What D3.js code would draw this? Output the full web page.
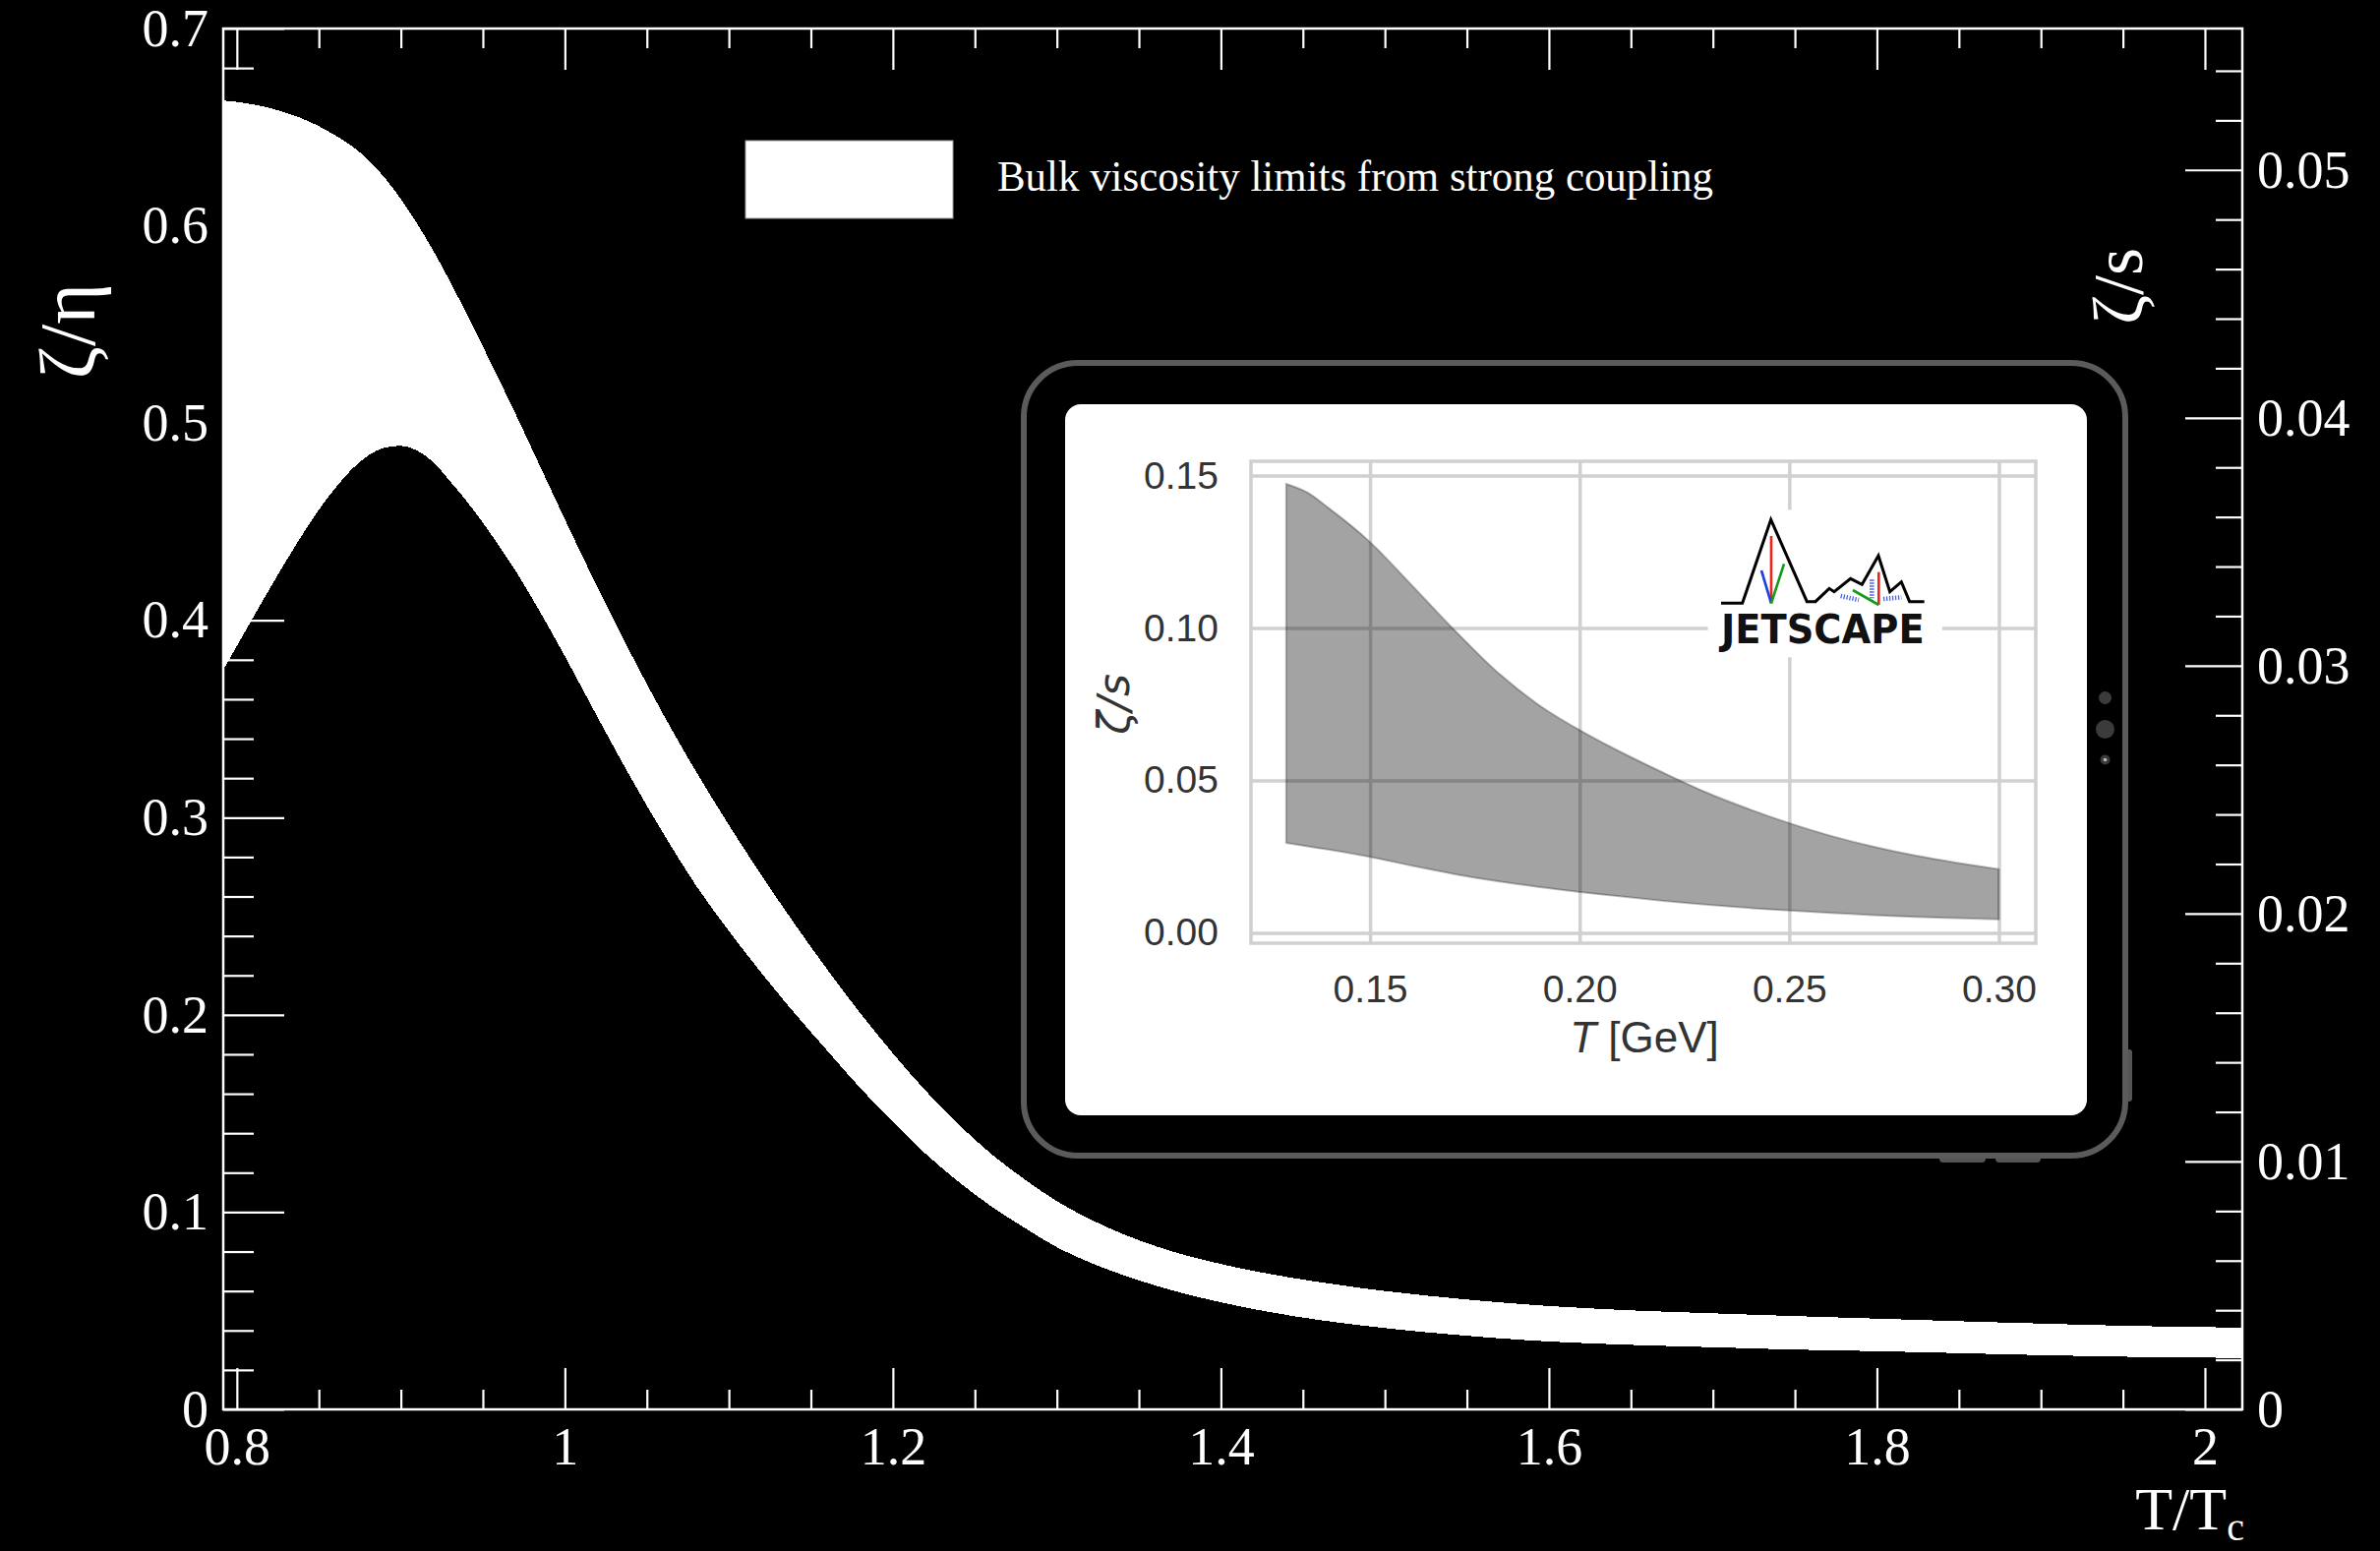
<!DOCTYPE html>
<html>
<head>
<meta charset="utf-8">
<script src="https://cdn.jsdelivr.net/npm/d3@7"></script>
<style>
  html, body { margin: 0; padding: 0; background: #000; }
  svg { display: block; }
</style>
</head>
<body>
<svg id="chart" width="2420" height="1577"></svg>
<script>
// ---------- main panel: zeta/eta band vs T/Tc ----------
const tRatio = [0.79, 0.80, 0.81, 0.82, 0.83, 0.84, 0.85, 0.86, 0.87, 0.88, 0.89, 0.90,
  0.91, 0.92, 0.93, 0.94, 0.95, 0.96, 0.97, 0.98, 0.99, 1.00, 1.02, 1.04, 1.06, 1.08,
  1.10, 1.12, 1.14, 1.16, 1.18, 1.20, 1.22, 1.24, 1.26, 1.28, 1.30, 1.32, 1.34, 1.36,
  1.38, 1.40, 1.43, 1.46, 1.50, 1.55, 1.60, 1.65, 1.70, 1.75, 1.80, 1.85, 1.90, 1.95,
  2.00, 2.03];
const zetaEtaUpper = [0.6636, 0.6628, 0.6615, 0.6597, 0.6573, 0.6543, 0.6505, 0.6458,
  0.6405, 0.6335, 0.6245, 0.6135, 0.6010, 0.5870, 0.5717, 0.5555, 0.5388, 0.5218,
  0.5045, 0.4868, 0.4690, 0.4512, 0.4165, 0.3835, 0.3523, 0.3233, 0.2962, 0.2706,
  0.2462, 0.2230, 0.2010, 0.1805, 0.1615, 0.1445, 0.1295, 0.1168, 0.1055, 0.0965,
  0.0890, 0.0828, 0.0778, 0.0737, 0.0686, 0.0645, 0.0600, 0.0557, 0.0524, 0.0502,
  0.0487, 0.0473, 0.0460, 0.0447, 0.0435, 0.0424, 0.0417, 0.0414];
const zetaEtaLower = [0.3725, 0.3870, 0.4015, 0.4160, 0.4300, 0.4435, 0.4560, 0.4670,
  0.4765, 0.4835, 0.4875, 0.4885, 0.4860, 0.4800, 0.4705, 0.4605, 0.4495, 0.4375,
  0.4250, 0.4112, 0.3968, 0.3818, 0.3508, 0.3205, 0.2920, 0.2655, 0.2425, 0.2211,
  0.2009, 0.1818, 0.1630, 0.1457, 0.1295, 0.1154, 0.1029, 0.0922, 0.0822, 0.0745,
  0.0682, 0.0628, 0.0582, 0.0543, 0.0493, 0.0453, 0.0412, 0.0373, 0.0344, 0.0327,
  0.0315, 0.0303, 0.0295, 0.0285, 0.0275, 0.0267, 0.0262, 0.0261];

const xTicks = [0.8, 1.0, 1.2, 1.4, 1.6, 1.8, 2.0];
const xTickLabels = ["0.8", "1", "1.2", "1.4", "1.6", "1.8", "2"];
const yLeftTicks = [0, 0.1, 0.2, 0.3, 0.4, 0.5, 0.6, 0.7];
const yLeftTickLabels = ["0", "0.1", "0.2", "0.3", "0.4", "0.5", "0.6", "0.7"];
const yRightTicks = [0, 0.01, 0.02, 0.03, 0.04, 0.05];
const yRightTickLabels = ["0", "0.01", "0.02", "0.03", "0.04", "0.05"];
const legendLabel = "Bulk viscosity limits from strong coupling";

// ---------- inset: JETSCAPE zeta/s posterior band ----------
const insetT = [0.13, 0.135, 0.14, 0.15, 0.16, 0.17, 0.18, 0.19, 0.20, 0.21, 0.22,
  0.23, 0.24, 0.25, 0.26, 0.27, 0.28, 0.29, 0.30];
const insetUpper = [0.1473, 0.1445, 0.1395, 0.1282, 0.1140, 0.0995, 0.0860, 0.0750,
  0.0665, 0.0592, 0.0525, 0.0462, 0.0408, 0.0360, 0.0318, 0.0283, 0.0254, 0.0230, 0.0209];
const insetLower = [0.0295, 0.0284, 0.0273, 0.0249, 0.0220, 0.0193, 0.0170, 0.0151,
  0.0134, 0.0119, 0.0105, 0.0093, 0.0082, 0.0073, 0.0065, 0.0058, 0.0052, 0.0048, 0.0044];
const insetXTicks = [0.15, 0.20, 0.25, 0.30];
const insetXTickLabels = ["0.15", "0.20", "0.25", "0.30"];
const insetYTicks = [0.00, 0.05, 0.10, 0.15];
const insetYTickLabels = ["0.00", "0.05", "0.10", "0.15"];

// ---------------------------------------------------------------
const svg = d3.select("#chart");
svg.append("rect").attr("width", 2420).attr("height", 1577).attr("fill", "#000");

const serif = "'Liberation Serif', 'Times New Roman', serif";
const sans = "'Liberation Sans', Arial, Helvetica, sans-serif";

const frame = { left: 227, right: 2280, top: 29, bottom: 1433 };
const x = d3.scaleLinear().domain([0.7917, 2.0228]).range([frame.left, frame.right]);
const yL = d3.scaleLinear().domain([0, 0.7]).range([frame.bottom, frame.top]);
// zeta/s = (zeta/eta) * (eta/s) with eta/s = 1/(4 pi)
const yR = d3.scaleLinear().domain([0, 0.7 / (4 * Math.PI)]).range([frame.bottom, frame.top]);

const bandData = tRatio.map((t, i) => ({ t, hi: zetaEtaUpper[i], lo: zetaEtaLower[i] }));

svg.append("clipPath").attr("id", "frameClip")
  .append("rect")
  .attr("x", frame.left).attr("y", frame.top)
  .attr("width", frame.right - frame.left).attr("height", frame.bottom - frame.top);

svg.append("path")
  .datum(bandData)
  .attr("clip-path", "url(#frameClip)")
  .attr("fill", "#fff")
  .attr("shape-rendering", "crispEdges")
  .attr("d", d3.area()
    .x(d => x(d.t))
    .y0(d => yL(d.lo))
    .y1(d => yL(d.hi))
    .curve(d3.curveMonotoneX));

// minor tick helpers
const range = (a, b, s) => d3.range(Math.round(a / s), Math.round(b / s) + 1).map(k => +(k * s).toFixed(6));
const notIn = arr => v => !arr.some(m => Math.abs(m - v) < 1e-9);

const xMinor = range(0.8, 2.0, 0.05).filter(notIn(xTicks));
const yLMinor = range(0, 0.7, 0.02).filter(notIn(yLeftTicks));
const yRMinor = range(0, 0.054, 0.002).filter(notIn(yRightTicks));

function styleAxis(g, size) {
  g.select(".domain").remove();
  g.selectAll(".tick line").attr("stroke", "#fff").attr("stroke-width", 2.2);
  g.selectAll(".tick text").attr("fill", "#fff")
    .attr("font-family", serif).attr("font-size", size);
}

// bottom axis
svg.append("g").attr("transform", `translate(0,${frame.bottom})`)
  .call(d3.axisBottom(x).tickValues(xTicks)
    .tickFormat((d, i) => xTickLabels[i]).tickSize(-42).tickPadding(18))
  .call(g => styleAxis(g, 54));
svg.append("g").attr("transform", `translate(0,${frame.bottom})`)
  .call(d3.axisBottom(x).tickValues(xMinor).tickFormat("").tickSize(-20))
  .call(g => styleAxis(g, 54));

// top axis (ticks only)
svg.append("g").attr("transform", `translate(0,${frame.top})`)
  .call(d3.axisTop(x).tickValues(xTicks).tickFormat("").tickSize(-42))
  .call(g => styleAxis(g, 54));
svg.append("g").attr("transform", `translate(0,${frame.top})`)
  .call(d3.axisTop(x).tickValues(xMinor).tickFormat("").tickSize(-20))
  .call(g => styleAxis(g, 54));

// left axis: zeta/eta
svg.append("g").attr("transform", `translate(${frame.left},0)`)
  .call(d3.axisLeft(yL).tickValues(yLeftTicks)
    .tickFormat((d, i) => yLeftTickLabels[i]).tickSize(-62).tickPadding(15))
  .call(g => styleAxis(g, 54));
svg.append("g").attr("transform", `translate(${frame.left},0)`)
  .call(d3.axisLeft(yL).tickValues(yLMinor).tickFormat("").tickSize(-31))
  .call(g => styleAxis(g, 54));

// right axis: zeta/s
svg.append("g").attr("transform", `translate(${frame.right},0)`)
  .call(d3.axisRight(yR).tickValues(yRightTicks)
    .tickFormat((d, i) => yRightTickLabels[i]).tickSize(-58).tickPadding(15))
  .call(g => styleAxis(g, 54));
svg.append("g").attr("transform", `translate(${frame.right},0)`)
  .call(d3.axisRight(yR).tickValues(yRMinor).tickFormat("").tickSize(-27))
  .call(g => styleAxis(g, 54));

// frame
svg.append("rect")
  .attr("x", frame.left).attr("y", frame.top)
  .attr("width", frame.right - frame.left).attr("height", frame.bottom - frame.top)
  .attr("fill", "none").attr("stroke", "#fff").attr("stroke-width", 2.5);

// axis titles
svg.append("text")
  .attr("transform", "translate(96,288) rotate(-90)")
  .attr("text-anchor", "end")
  .attr("font-family", serif).attr("font-size", 80).attr("fill", "#fff")
  .text("ζ/η");
svg.append("text")
  .attr("transform", "translate(2178,252) rotate(-90)")
  .attr("text-anchor", "end")
  .attr("font-family", serif).attr("font-size", 72).attr("fill", "#fff")
  .text("ζ/s");
const xTitle = svg.append("text")
  .attr("x", 2282).attr("y", 1555)
  .attr("text-anchor", "end")
  .attr("font-family", serif).attr("font-size", 62).attr("fill", "#fff");
xTitle.append("tspan").text("T/T");
xTitle.append("tspan").attr("font-size", 40).attr("dy", 11).text("c");

// legend
svg.append("rect")
  .attr("x", 758).attr("y", 143).attr("width", 211).attr("height", 79)
  .attr("fill", "#fff").attr("stroke", "#999").attr("stroke-width", 1);
svg.append("text")
  .attr("x", 1014).attr("y", 194)
  .attr("font-family", serif).attr("font-size", 44).attr("fill", "#fff")
  .attr("textLength", 728).attr("lengthAdjust", "spacingAndGlyphs")
  .text(legendLabel);

// ---------- tablet frame holding the inset ----------
const tab = svg.append("g");
tab.append("rect").attr("x", 1972).attr("y", 1170).attr("width", 47).attr("height", 12)
  .attr("rx", 4).attr("fill", "#555");
tab.append("rect").attr("x", 2029).attr("y", 1170).attr("width", 46).attr("height", 12)
  .attr("rx", 4).attr("fill", "#555");
tab.append("rect").attr("x", 2158).attr("y", 1067).attr("width", 10).attr("height", 53)
  .attr("rx", 3).attr("fill", "#555");
tab.append("rect")
  .attr("x", 1041).attr("y", 369).attr("width", 1120).attr("height", 806)
  .attr("rx", 55).attr("fill", "#000").attr("stroke", "#5b5b5b").attr("stroke-width", 6);
tab.append("rect")
  .attr("x", 1083).attr("y", 411).attr("width", 1039).attr("height", 723)
  .attr("rx", 16).attr("fill", "#fff");
tab.append("circle").attr("cx", 2140.5).attr("cy", 709.5).attr("r", 6.5).attr("fill", "#3b3b3b");
tab.append("circle").attr("cx", 2140.5).attr("cy", 741.5).attr("r", 9.5).attr("fill", "#3b3b3b");
tab.append("circle").attr("cx", 2140.5).attr("cy", 772.5).attr("r", 5).attr("fill", "#3b3b3b");
tab.append("circle").attr("cx", 2140.5).attr("cy", 772.5).attr("r", 1.8).attr("fill", "#bbb");

// ---------- inset chart ----------
const inset = { left: 1272, right: 2070, top: 469, bottom: 959 };
const ix = d3.scaleLinear().domain([0.1216, 0.3088]).range([inset.left, inset.right]);
const iy = d3.scaleLinear().domain([-0.0034, 0.1547]).range([inset.bottom, inset.top]);
const gridColor = "#d0d0d0";
const tickColor = "#333";

function styleInset(g) {
  g.select(".domain").remove();
  g.selectAll(".tick line").attr("stroke", gridColor).attr("stroke-width", 3.5);
  g.selectAll(".tick text").attr("fill", tickColor)
    .attr("font-family", sans).attr("font-size", 39);
}

svg.append("g").attr("transform", `translate(0,${inset.bottom})`)
  .call(d3.axisBottom(ix).tickValues(insetXTicks)
    .tickFormat((d, i) => insetXTickLabels[i])
    .tickSize(-(inset.bottom - inset.top)).tickPadding(32))
  .call(styleInset);
svg.append("g").attr("transform", `translate(${inset.left},0)`)
  .call(d3.axisLeft(iy).tickValues(insetYTicks)
    .tickFormat((d, i) => insetYTickLabels[i])
    .tickSize(-(inset.right - inset.left)).tickPadding(33))
  .call(styleInset);

const insetData = insetT.map((t, i) => ({ t, hi: insetUpper[i], lo: insetLower[i] }));
svg.append("path")
  .datum(insetData)
  .attr("fill", "#000").attr("fill-opacity", 0.36)
  .attr("stroke", "#000").attr("stroke-opacity", 0.25).attr("stroke-width", 2)
  .attr("d", d3.area()
    .x(d => ix(d.t))
    .y0(d => iy(d.lo))
    .y1(d => iy(d.hi))
    .curve(d3.curveMonotoneX));

svg.append("rect")
  .attr("x", inset.left).attr("y", inset.top)
  .attr("width", inset.right - inset.left).attr("height", inset.bottom - inset.top)
  .attr("fill", "none").attr("stroke", gridColor).attr("stroke-width", 3.5);

// inset titles
const itx = svg.append("text")
  .attr("x", 1672).attr("y", 1070).attr("text-anchor", "middle")
  .attr("font-family", sans).attr("font-size", 44).attr("fill", tickColor);
itx.append("tspan").attr("font-style", "italic").text("T");
itx.append("tspan").text(" [GeV]");
svg.append("text")
  .attr("transform", "translate(1148,716) rotate(-90)")
  .attr("text-anchor", "middle")
  .attr("font-family", "'DejaVu Sans', sans-serif").attr("font-style", "italic")
  .attr("font-size", 44).attr("fill", tickColor)
  .text("ζ/s");

// JETSCAPE logo (drawn on a 3x local grid)
const logo = svg.append("g").attr("transform", "translate(1730,500) scale(0.3333)");
logo.append("rect").attr("x", 20).attr("y", 55).attr("width", 715).attr("height", 450).attr("fill", "#fff");
logo.append("path")
  .attr("d", "M60,340 L125,340 L212,85 L322,335 L348,335 L390,295 L405,305 L455,265 L490,283 L540,195 L575,305 L610,275 L635,335 L680,335")
  .attr("fill", "none").attr("stroke", "#000").attr("stroke-width", 9).attr("stroke-linejoin", "miter");
const logoLines = [
  { d: "M213,135 L213,340", c: "#e8281e" },
  { d: "M183,240 L213,340", c: "#2040e0" },
  { d: "M252,220 L213,340", c: "#159a1b" },
  { d: "M541,245 L541,345", c: "#e8281e" },
  { d: "M462,300 L541,345", c: "#159a1b" }
];
logo.selectAll("path.cl").data(logoLines).enter().append("path")
  .attr("class", "cl").attr("d", d => d.d)
  .attr("fill", "none").attr("stroke", d => d.c).attr("stroke-width", 8);
const hatch = ["M425,318 L480,330", "M520,268 L520,325", "M555,327 L610,322"];
logo.selectAll("path.h").data(hatch).enter().append("path")
  .attr("class", "h").attr("d", d => d)
  .attr("fill", "none").attr("stroke", "#4a68e8").attr("stroke-width", 14)
  .attr("stroke-dasharray", "4 5");
logo.append("text")
  .attr("x", 60).attr("y", 462)
  .attr("font-family", "'DejaVu Sans Condensed', 'DejaVu Sans', sans-serif")
  .attr("font-weight", "bold").attr("font-size", 122).attr("fill", "#111")
  .attr("textLength", 620).attr("lengthAdjust", "spacingAndGlyphs")
  .text("JETSCAPE");
</script>
</body>
</html>
